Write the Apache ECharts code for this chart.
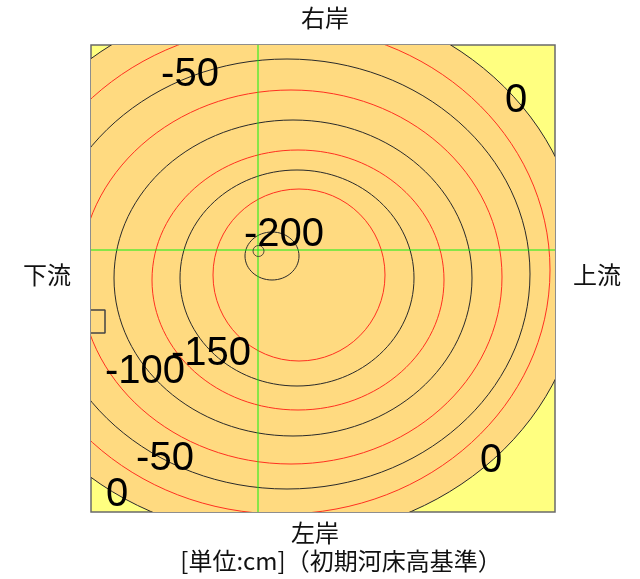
<!DOCTYPE html>
<html>
<head>
<meta charset="utf-8">
<script src="https://cdn.jsdelivr.net/npm/echarts@6/dist/echarts.min.js"></script>
<style>
html,body{margin:0;padding:0;background:#fff;}
#chart{width:640px;height:579px;}
</style>
</head>
<body>
<div id="chart"></div>
<script>
// ---- data ----
// contour levels [cm] and their ellipse centres / half-axes (plan coordinates, origin at the crosshair)
const levels  = [0, -25, -50, -75, -100, -125, -150, -175, -200];
const centerX = [23, 24, 29, 33, 35, 40, 39, 41, 14];
const centerY = [-18, -20, -24, -27, -28, -30, -28, -25, -6];
const radiusX = [301, 268, 243, 211, 179, 146, 117, 86, 27];
const radiusY = [270, 244, 215, 187, 158, 130, 108, 86, 24];
// deepest point
const deepestPoint = [[0.5, -1]];
// pier outline
const pierOutline = [[-167, -60], [-153, -60], [-153, -83], [-167, -83]];
// crosshair (reference lines)
const crossX = [0];
const crossY = [0];
// contour labels
const labelLevel = [-50, -200, -150, -100, -50, 0, 0, 0];
const labelX = [-68, 26, -47, -113, -93, -141, 258, 233];
const labelY = [175, 15, -104, -122, -209, -245, 149, -211];
// plot extent
const xRange = [-167, 297];
const yRange = [-262, 205];
// texts
const titleTop = '右岸';
const titleBottom = '左岸';
const titleLeft = '下流';
const titleRight = '上流';
const unitText = '[単位:cm]（初期河床高基準）';

const contourData = levels.map((lv, i) => [centerX[i], centerY[i], radiusX[i], radiusY[i], lv]);
const labelData = labelLevel.map((lv, i) => [labelX[i], labelY[i], lv]);

const chart = echarts.init(document.getElementById('chart'), null, {renderer: 'canvas'});
const CJK = '"Noto Sans CJK JP", sans-serif';

function clipOf(params) {
  const cs = params.coordSys;
  return {type: 'rect', shape: {x: cs.x, y: cs.y, width: cs.width, height: cs.height}};
}

const option = {
  backgroundColor: '#ffffff',
  animation: false,
  grid: {
    left: 91, top: 45, width: 464, height: 467,
    show: true, backgroundColor: '#FFFF80', borderColor: '#6a6a6a', borderWidth: 1.5, z: 0
  },
  xAxis: {type: 'value', min: xRange[0], max: xRange[1], show: false},
  yAxis: {type: 'value', min: yRange[0], max: yRange[1], show: false},
  graphic: [
    {type: 'text', x: 325, y: 18, style: {text: titleTop, font: '24px ' + CJK, fill: '#111', align: 'center', verticalAlign: 'middle'}},
    {type: 'text', x: 315, y: 533, style: {text: titleBottom, font: '24px ' + CJK, fill: '#111', align: 'center', verticalAlign: 'middle'}},
    {type: 'text', x: 47, y: 275, style: {text: titleLeft, font: '24px ' + CJK, fill: '#111', align: 'center', verticalAlign: 'middle'}},
    {type: 'text', x: 597, y: 275, style: {text: titleRight, font: '24px ' + CJK, fill: '#111', align: 'center', verticalAlign: 'middle'}},
    {type: 'text', x: 341, y: 561, style: {text: unitText, font: '24px ' + CJK, fill: '#111', align: 'center', verticalAlign: 'middle'}}
  ],
  series: [
    {
      type: 'custom',
      name: 'contours',
      coordinateSystem: 'cartesian2d',
      data: contourData,
      encode: {x: 0, y: 1},
      z: 2,
      silent: true,
      renderItem: function (params, api) {
        const c = api.coord([api.value(0), api.value(1)]);
        const s = api.size([api.value(2), api.value(3)]);
        const lv = api.value(4);
        const children = [];
        if (lv === 0) {
          children.push({type: 'ellipse', shape: {cx: c[0], cy: c[1], rx: s[0], ry: s[1]},
            style: {fill: '#FFDA80', stroke: null}});
        }
        children.push({type: 'ellipse', shape: {cx: c[0], cy: c[1], rx: s[0], ry: s[1]},
          style: {fill: null, stroke: (lv % 50 === 0) ? '#2a2a2a' : '#FF3020', lineWidth: 1}});
        return {type: 'group', clipPath: clipOf(params), children: children};
      }
    },
    {
      type: 'custom',
      name: 'crosshair',
      coordinateSystem: 'cartesian2d',
      data: [[crossX[0], crossY[0]]],
      encode: {x: 0, y: 1},
      z: 3,
      silent: true,
      renderItem: function (params, api) {
        const cs = params.coordSys;
        const c = api.coord([api.value(0), api.value(1)]);
        return {type: 'group', children: [
          {type: 'line', shape: {x1: c[0], y1: cs.y, x2: c[0], y2: cs.y + cs.height}, style: {stroke: '#10F010', lineWidth: 1}},
          {type: 'line', shape: {x1: cs.x, y1: c[1], x2: cs.x + cs.width, y2: c[1]}, style: {stroke: '#10F010', lineWidth: 1}}
        ]};
      }
    },
    {
      type: 'scatter',
      name: 'deepest',
      data: deepestPoint,
      symbol: 'circle',
      symbolSize: 11,
      z: 4,
      silent: true,
      itemStyle: {color: 'rgba(0,0,0,0)', borderColor: '#2a2a2a', borderWidth: 1}
    },
    {
      type: 'line',
      name: 'pier',
      data: pierOutline,
      symbol: 'none',
      z: 4,
      silent: true,
      clip: false,
      lineStyle: {color: '#444', width: 1.5}
    },
    {
      type: 'custom',
      name: 'labels',
      coordinateSystem: 'cartesian2d',
      data: labelData,
      encode: {x: 0, y: 1},
      z: 5,
      silent: true,
      renderItem: function (params, api) {
        const c = api.coord([api.value(0), api.value(1)]);
        return {type: 'text', x: c[0], y: c[1],
          style: {text: String(api.value(2)), font: '40px "Liberation Sans", Arial, sans-serif',
            fill: '#000', align: 'center', verticalAlign: 'middle'}};
      }
    }
  ]
};
chart.setOption(option);
</script>
</body>
</html>
